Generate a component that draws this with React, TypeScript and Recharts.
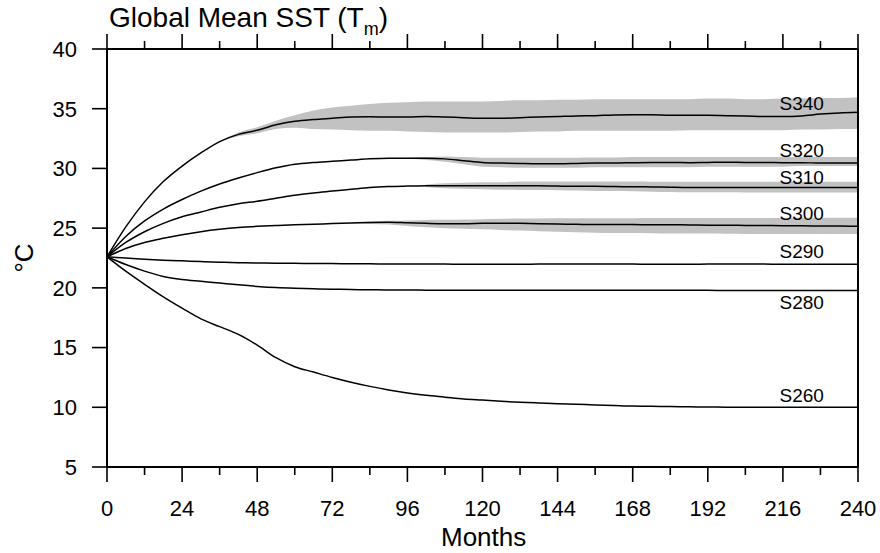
import { ComposedChart, Line, Area, XAxis, YAxis, ReferenceDot } from 'recharts'

// simulation month (x axis)
const months = [
  0, 6, 12, 18, 24, 30, 36, 42, 48, 54, 60, 66, 72, 78, 84, 90, 96, 102, 108, 114, 120,
  126, 132, 138, 144, 150, 156, 162, 168, 174, 180, 186, 192, 198, 204, 210, 216, 222, 228, 234, 240,
]

// ensemble-mean global SST, degC
const s340 = [
  22.6, 25.1, 27.2, 28.9, 30.2, 31.3, 32.25, 32.85, 33.2, 33.65, 33.95, 34.1, 34.2, 34.3, 34.32, 34.3, 34.3, 34.35, 34.3, 34.25, 34.2,
  34.2, 34.25, 34.3, 34.35, 34.4, 34.42, 34.48, 34.5, 34.5, 34.45, 34.45, 34.45, 34.42, 34.4, 34.35, 34.35, 34.4, 34.55, 34.65, 34.7,
]
const s320 = [
  22.6, 24.3, 25.6, 26.6, 27.4, 28.1, 28.7, 29.2, 29.65, 30.05, 30.35, 30.5, 30.6, 30.7, 30.8, 30.85, 30.85, 30.85, 30.8, 30.65, 30.5,
  30.45, 30.42, 30.4, 30.4, 30.42, 30.45, 30.45, 30.48, 30.5, 30.5, 30.48, 30.5, 30.52, 30.5, 30.5, 30.48, 30.48, 30.45, 30.45, 30.45,
]
const s310 = [
  22.6, 23.8, 24.7, 25.4, 25.95, 26.35, 26.75, 27.05, 27.25, 27.5, 27.75, 27.95, 28.1, 28.25, 28.4, 28.48, 28.52, 28.55, 28.55, 28.55, 28.55,
  28.55, 28.55, 28.55, 28.52, 28.5, 28.5, 28.48, 28.47, 28.45, 28.42, 28.4, 28.4, 28.4, 28.4, 28.4, 28.4, 28.4, 28.4, 28.4, 28.4,
]
const s300 = [
  22.6, 23.3, 23.8, 24.15, 24.45, 24.7, 24.9, 25.05, 25.15, 25.22, 25.28, 25.33, 25.38, 25.43, 25.48, 25.5, 25.45, 25.4, 25.37, 25.37, 25.4,
  25.42, 25.4, 25.36, 25.34, 25.32, 25.3, 25.3, 25.3, 25.28, 25.28, 25.27, 25.25, 25.25, 25.23, 25.22, 25.2, 25.2, 25.18, 25.17, 25.15,
]
const s290 = [
  22.6, 22.5, 22.4, 22.32, 22.26, 22.2, 22.15, 22.11, 22.08, 22.06, 22.05, 22.04, 22.03, 22.02, 22.01, 22.0, 22.0, 22.0, 21.99, 21.98, 21.98,
  21.98, 21.98, 21.99, 22.0, 22.0, 22.0, 22.0, 21.99, 21.98, 21.98, 21.98, 21.99, 22.0, 22.0, 21.99, 21.98, 21.98, 21.98, 21.98, 21.98,
]
const s280 = [
  22.6, 21.95, 21.4, 20.95, 20.7, 20.55, 20.4, 20.25, 20.12, 20.02, 19.96, 19.92, 19.89, 19.86, 19.84, 19.82, 19.82, 19.81, 19.81, 19.8, 19.8,
  19.8, 19.8, 19.8, 19.8, 19.8, 19.8, 19.79, 19.79, 19.79, 19.79, 19.79, 19.79, 19.78, 19.78, 19.77, 19.78, 19.78, 19.78, 19.78, 19.78,
]
const s260 = [
  22.6, 21.4, 20.3, 19.25, 18.3, 17.4, 16.75, 16.1, 15.2, 14.15, 13.4, 12.95, 12.5, 12.1, 11.75, 11.45, 11.2, 11.0, 10.85, 10.7, 10.6,
  10.5, 10.42, 10.36, 10.3, 10.25, 10.2, 10.15, 10.1, 10.08, 10.06, 10.04, 10.02, 10.01, 10.0, 10.0, 10.0, 10.0, 10.0, 10.0, 10.0,
]

// ensemble spread (min / max), null before members diverge
const s340Hi = [
  null, null, null, null, null, null, 32.25, 33.0, 33.45, 34.0, 34.45, 34.85, 35.1, 35.25, 35.4, 35.5, 35.55, 35.6, 35.6, 35.6, 35.6,
  35.65, 35.7, 35.7, 35.75, 35.75, 35.8, 35.8, 35.8, 35.8, 35.8, 35.8, 35.85, 35.85, 35.8, 35.8, 35.85, 35.85, 35.9, 35.9, 35.95,
]
const s340Lo = [
  null, null, null, null, null, null, 32.25, 32.7, 32.95, 33.3, 33.4, 33.3, 33.25, 33.2, 33.15, 33.15, 33.1, 33.05, 33.0, 33.0, 33.0,
  33.0, 33.05, 33.1, 33.1, 33.15, 33.15, 33.15, 33.15, 33.15, 33.15, 33.2, 33.2, 33.2, 33.2, 33.2, 33.2, 33.25, 33.25, 33.3, 33.3,
]
const s320Hi = [
  null, null, null, null, null, null, null, null, null, null, null, null, null, null, null, null, 30.9, 30.95, 31.0, 30.95, 30.9,
  30.9, 30.9, 30.9, 30.9, 30.9, 30.92, 30.92, 30.95, 30.95, 30.95, 30.95, 30.95, 30.95, 30.95, 30.95, 30.95, 30.95, 30.95, 30.95, 30.95,
]
const s320Lo = [
  null, null, null, null, null, null, null, null, null, null, null, null, null, null, null, null, 30.8, 30.7, 30.55, 30.35, 30.15,
  30.1, 30.05, 30.05, 30.05, 30.05, 30.1, 30.1, 30.1, 30.1, 30.1, 30.1, 30.15, 30.15, 30.15, 30.15, 30.15, 30.2, 30.2, 30.2, 30.2,
]
const s310Hi = [
  null, null, null, null, null, null, null, null, null, null, null, null, null, null, null, null, null, 28.65, 28.75, 28.8, 28.85,
  28.85, 28.9, 28.9, 28.9, 28.9, 28.9, 28.9, 28.9, 28.88, 28.88, 28.88, 28.88, 28.88, 28.88, 28.88, 28.88, 28.88, 28.88, 28.88, 28.88,
]
const s310Lo = [
  null, null, null, null, null, null, null, null, null, null, null, null, null, null, null, null, null, 28.45, 28.35, 28.3, 28.25,
  28.22, 28.2, 28.2, 28.18, 28.15, 28.12, 28.1, 28.08, 28.05, 28.02, 28.0, 28.0, 28.0, 27.98, 27.98, 27.98, 27.98, 27.98, 27.98, 27.98,
]
const s300Hi = [
  null, null, null, null, null, null, null, null, null, null, null, null, null, 25.45, 25.55, 25.62, 25.65, 25.68, 25.7, 25.72, 25.75,
  25.78, 25.8, 25.8, 25.82, 25.82, 25.83, 25.83, 25.83, 25.85, 25.85, 25.85, 25.85, 25.85, 25.85, 25.85, 25.85, 25.87, 25.87, 25.87, 25.87,
]
const s300Lo = [
  null, null, null, null, null, null, null, null, null, null, null, null, null, 25.4, 25.35, 25.3, 25.18, 25.08, 25.0, 24.95, 24.9,
  24.85, 24.8, 24.75, 24.7, 24.65, 24.62, 24.6, 24.6, 24.58, 24.56, 24.55, 24.55, 24.53, 24.52, 24.52, 24.5, 24.5, 24.5, 24.5, 24.5,
]

const seriesKeys = ['s340', 's320', 's310', 's300', 's290', 's280', 's260']
const seriesNames = ['S340', 'S320', 'S310', 'S300', 'S290', 'S280', 'S260']
// where each run's name is written (month, degC)
const nameMonth = 222
const nameTemp = [35.48, 31.54, 29.28, 26.26, 23.04, 18.81, 11.02]

const xTicks = [0, 12, 24, 36, 48, 60, 72, 84, 96, 108, 120, 132, 144, 156, 168, 180, 192, 204, 216, 228, 240]
const yTicks = [5, 10, 15, 20, 25, 30, 35, 40]

const band = (lo: (number | null)[], hi: (number | null)[], i: number) =>
  lo[i] == null || hi[i] == null ? null : [lo[i], hi[i]]

const data = months.map((m, i) => ({
  month: m,
  s340: s340[i],
  s320: s320[i],
  s310: s310[i],
  s300: s300[i],
  s290: s290[i],
  s280: s280[i],
  s260: s260[i],
  b340: band(s340Lo, s340Hi, i),
  b320: band(s320Lo, s320Hi, i),
  b310: band(s310Lo, s310Hi, i),
  b300: band(s300Lo, s300Hi, i),
}))

const W = 880
const H = 553
const FONT = '"Liberation Sans", Arial, Helvetica, sans-serif'
const BAND = '#c2c2c2'

// majors every 24 months get a longer tick and a label
const BottomTick = ({ x, y, payload }: any) => {
  const major = payload.value % 24 === 0
  return (
    <g>
      <line x1={x} x2={x} y1={y} y2={y + (major ? 15 : 8)} stroke="#000" strokeWidth={1.6} />
      {major && (
        <text x={x} y={y + 49} textAnchor="middle" fontSize={22} fill="#000">
          {payload.value}
        </text>
      )}
    </g>
  )
}

const TopTick = ({ x, y, payload }: any) => {
  const major = payload.value % 24 === 0
  return <line x1={x} x2={x} y1={y} y2={y - (major ? 15 : 8)} stroke="#000" strokeWidth={1.6} />
}

const NoLabel = () => <g />

export default function App() {
  return (
    <div style={{ position: 'absolute', left: 0, top: 0, width: W, height: H, background: '#fff', fontFamily: FONT }}>
      <ComposedChart width={W} height={H} data={data} margin={{ top: 0, right: 0, bottom: 0, left: 0 }}>
        <XAxis
          xAxisId="b"
          dataKey="month"
          type="number"
          domain={[0, 240]}
          ticks={xTicks}
          interval={0}
          orientation="bottom"
          height={86}
          tickSize={0}
          tickMargin={0}
          tickLine={false}
          tick={<BottomTick />}
          axisLine={{ stroke: '#000', strokeWidth: 2 }}
        />
        <XAxis
          xAxisId="t"
          dataKey="month"
          type="number"
          domain={[0, 240]}
          ticks={xTicks}
          interval={0}
          orientation="top"
          height={49}
          tickSize={0}
          tickMargin={0}
          tickLine={false}
          tick={<TopTick />}
          axisLine={{ stroke: '#000', strokeWidth: 2 }}
        />
        <YAxis
          yAxisId="l"
          type="number"
          domain={[5, 40]}
          ticks={yTicks}
          interval={0}
          width={107}
          tickSize={15}
          tickMargin={15}
          tickLine={{ stroke: '#000', strokeWidth: 1.6 }}
          tick={{ fontSize: 22, fill: '#000' }}
          axisLine={{ stroke: '#000', strokeWidth: 2 }}
        />
        <YAxis
          yAxisId="r"
          orientation="right"
          type="number"
          domain={[5, 40]}
          ticks={yTicks}
          interval={0}
          width={22}
          tickSize={15}
          tickLine={{ stroke: '#000', strokeWidth: 1.6 }}
          tick={<NoLabel />}
          axisLine={{ stroke: '#000', strokeWidth: 2 }}
        />

        {['b340', 'b320', 'b310', 'b300'].map(k => (
          <Area
            key={k}
            xAxisId="b"
            yAxisId="l"
            dataKey={k}
            type="monotone"
            stroke="none"
            fill={BAND}
            fillOpacity={1}
            activeDot={false}
            isAnimationActive={false}
          />
        ))}

        {seriesKeys.map(k => (
          <Line
            key={k}
            xAxisId="b"
            yAxisId="l"
            dataKey={k}
            type="monotone"
            stroke="#000"
            strokeWidth={1.5}
            dot={false}
            activeDot={false}
            isAnimationActive={false}
          />
        ))}

        {seriesNames.map((name, i) => (
          <ReferenceDot
            key={name}
            xAxisId="b"
            yAxisId="l"
            x={nameMonth}
            y={nameTemp[i]}
            r={0}
            fill="none"
            stroke="none"
            label={{ value: name, position: 'center', fontSize: 19, fill: '#000' }}
          />
        ))}
      </ComposedChart>

      <svg width={W} height={H} style={{ position: 'absolute', left: 0, top: 0, pointerEvents: 'none' }}>
        <text x={109} y={27} fontSize={28} fill="#000">
          Global Mean SST (T
          <tspan dy={8} fontSize={18}>m</tspan>
          <tspan dy={-8}>)</tspan>
        </text>
        <text x={441} y={546} fontSize={26} fill="#000">Months</text>
        <text transform="translate(33 258) rotate(-90)" textAnchor="middle" fontSize={26} fill="#000">
          °C
        </text>
      </svg>
    </div>
  )
}
